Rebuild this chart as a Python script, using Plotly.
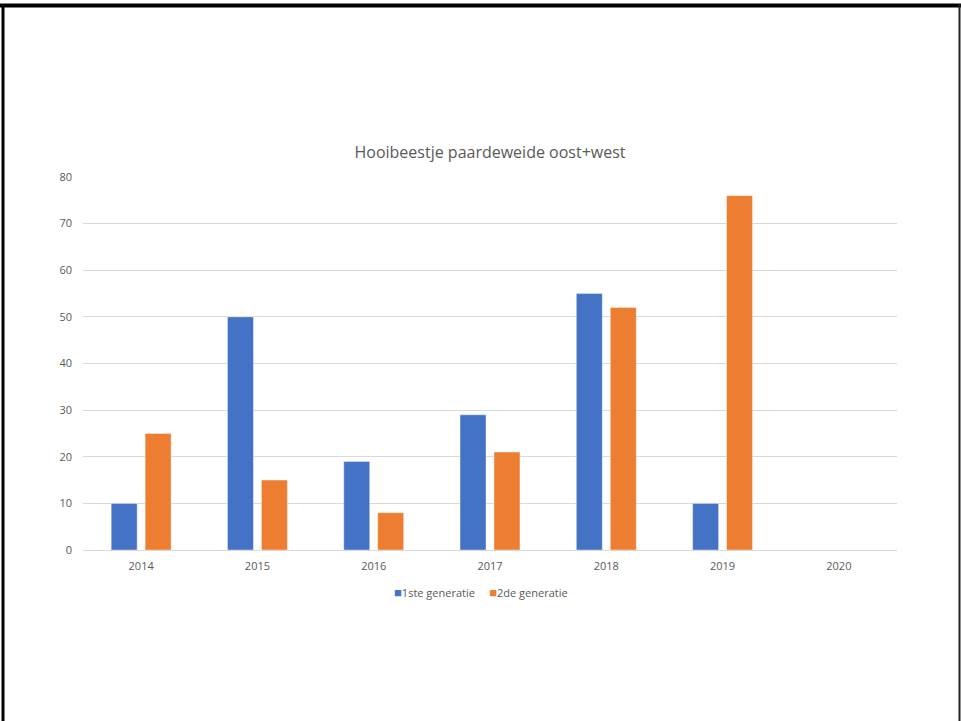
import plotly.graph_objects as go

years = ["2014", "2015", "2016", "2017", "2018", "2019", "2020"]
gen1 = [10, 50, 19, 29, 55, 10, None]
gen2 = [25, 15, 8, 21, 52, 76, None]
series_names = ["1ste generatie", "2de generatie"]
series_colors = ["#4472C4", "#ED7D31"]
title_text = "Hooibeestje paardeweide oost+west"

W, H = 961, 721
L, R, T, B = 83, 897, 177, 550

def px_x(px):
    return (px - L) / (R - L)

def px_y(py):
    return (B - py) / (B - T)

FONT = "Open Sans"
GREY = "#595959"

fig = go.Figure()
for vals, name, col in zip([gen1, gen2], series_names, series_colors):
    fig.add_trace(go.Bar(x=years, y=vals, name=name, showlegend=False,
                         marker=dict(color=col, line=dict(color="rgba(255,255,255,0.5)", width=0.8))))

shapes = [
    dict(type="line", xref="paper", yref="paper", x0=px_x(0), x1=px_x(W), y0=px_y(5.5), y1=px_y(5.5),
         line=dict(color="black", width=4)),
    dict(type="line", xref="paper", yref="paper", x0=px_x(3), x1=px_x(3), y0=px_y(4), y1=px_y(H),
         line=dict(color="black", width=3)),
    dict(type="line", xref="paper", yref="paper", x0=px_x(959.5), x1=px_x(959.5), y0=px_y(4), y1=px_y(H),
         line=dict(color="#222222", width=2)),
]

legend_html = "&nbsp;&nbsp;&nbsp;&nbsp;&nbsp;".join(
    f"<span style='color:{c};font-size:13px'>■</span>{n}" for n, c in zip(series_names, series_colors)
)

fig.update_layout(
    width=W, height=H,
    margin=dict(l=L, r=W - R, t=T, b=H - B, pad=0),
    paper_bgcolor="white", plot_bgcolor="white",
    title=dict(text=title_text, x=0.5, xanchor="center", xref="paper",
               y=1 - 152 / H, yanchor="middle",
               font=dict(family=FONT, size=16, color=GREY)),
    barmode="group", bargap=0.416, bargroupgap=0.235,
    annotations=[dict(text=legend_html, xref="paper", yref="paper",
                      x=px_x(481), y=px_y(592), xanchor="center", yanchor="middle",
                      showarrow=False, font=dict(family=FONT, size=11, color=GREY))],
    xaxis=dict(type="category", categoryorder="array", categoryarray=years,
               showgrid=False, showline=False, zeroline=False, ticks="",
               ticklabelstandoff=8,
               tickfont=dict(family=FONT, size=11, color=GREY), fixedrange=True),
    yaxis=dict(range=[0, 80], dtick=10, showgrid=True, gridcolor="#D9D9D9", gridwidth=1,
               zeroline=True, zerolinecolor="#D9D9D9", zerolinewidth=1,
               showline=False, ticks="", ticklabelstandoff=10,
               tickfont=dict(family=FONT, size=11, color=GREY), fixedrange=True),
    shapes=shapes,
    font=dict(family=FONT, color=GREY),
)

fig.write_html("out.html", config={"displayModeBar": False},
               post_script="document.body.style.margin='0';document.body.style.overflow='hidden';")
